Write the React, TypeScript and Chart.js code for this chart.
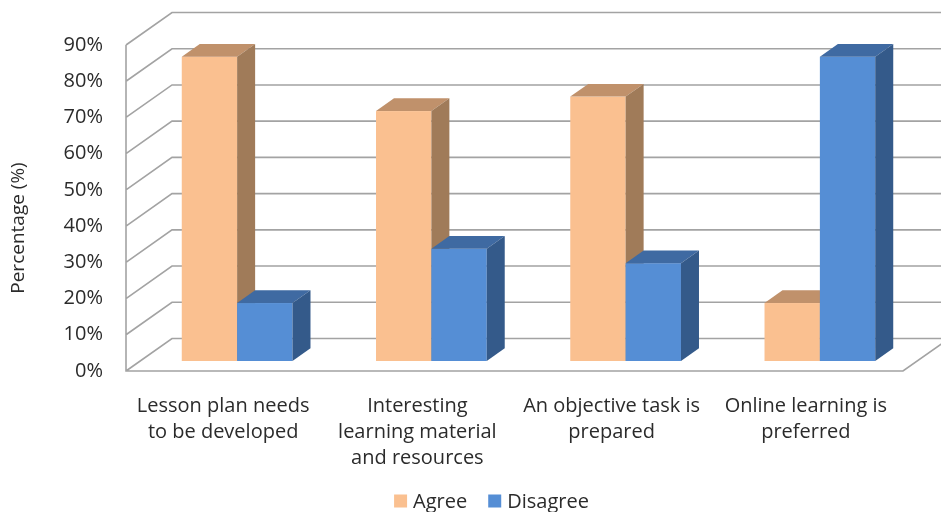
import React, { useEffect, useRef } from "react";
import { Chart, registerables } from "chart.js";

Chart.register(...registerables);

// ---- data ----
const categories: string[][] = [
  ["Lesson plan needs", "to be developed"],
  ["Interesting", "learning material", "and resources"],
  ["An objective task is", "prepared"],
  ["Online learning is", "preferred"],
];
const seriesNames = ["Agree", "Disagree"];
const agreeValues = [84, 69, 73, 16];
const disagreeValues = [16, 31, 27, 84];
const yTickValues = [0, 10, 20, 30, 40, 50, 60, 70, 80, 90];
const yAxisTitle = "Percentage (%)";

// ---- styling ----
const FONT = "'Open Sans', 'Noto Sans', sans-serif";
const FONT_SIZE = 20;
const TEXT_COLOR = "#2b2b2b";
const GRID_COLOR = "#a3a3a3";

// face colours per series: front, top, side
const faces = [
  { front: "#FAC090", top: "#C0916B", side: "#A07B59" },
  { front: "#558ED5", top: "#3F6AA2", side: "#345A8A" },
];

// perspective offsets (pixels)
const WALL_DX = 46;
const WALL_DY = -32.5;
const BAR_SHIFT_DX = 14;
const BAR_SHIFT_DY = -10;
const BAR_DEPTH_DX = 18;
const BAR_DEPTH_DY = -12.7;

const threeDPlugin = {
  id: "threeDBars",
  beforeDatasetsDraw(chart: any) {
    const { ctx, chartArea: a, scales } = chart;
    const y = scales.y;
    ctx.save();

    // side wall, back wall and floor lines
    ctx.strokeStyle = GRID_COLOR;
    ctx.lineWidth = 1.6;
    ctx.beginPath();
    for (const v of yTickValues) {
      const py = y.getPixelForValue(v);
      ctx.moveTo(a.left, py);
      ctx.lineTo(a.left + WALL_DX, py + WALL_DY);
      ctx.lineTo(a.right + WALL_DX, py + WALL_DY);
    }
    ctx.moveTo(a.left, y.getPixelForValue(yTickValues[yTickValues.length - 1]));
    ctx.lineTo(a.left, a.bottom);
    ctx.lineTo(a.right, a.bottom);
    ctx.lineTo(a.right + WALL_DX, a.bottom + WALL_DY);
    ctx.stroke();

    // 3D boxes, category by category so the right bar covers the left one's side
    const metas = chart.data.datasets.map((_: any, i: number) => chart.getDatasetMeta(i));
    const n = chart.data.labels.length;
    for (let c = 0; c < n; c++) {
      metas.forEach((meta: any, d: number) => {
        const el = meta.data[c];
        if (!el) return;
        const { x, y: top, base, width } = el.getProps(["x", "y", "base", "width"], true);
        const x0 = x - width / 2 + BAR_SHIFT_DX;
        const x1 = x + width / 2 + BAR_SHIFT_DX;
        const y0 = top + BAR_SHIFT_DY;
        const yb = base + BAR_SHIFT_DY;
        const f = faces[d];

        ctx.fillStyle = f.front;
        ctx.fillRect(x0, y0, x1 - x0, yb - y0);

        ctx.fillStyle = f.top;
        ctx.beginPath();
        ctx.moveTo(x0, y0);
        ctx.lineTo(x0 + BAR_DEPTH_DX, y0 + BAR_DEPTH_DY);
        ctx.lineTo(x1 + BAR_DEPTH_DX, y0 + BAR_DEPTH_DY);
        ctx.lineTo(x1, y0);
        ctx.closePath();
        ctx.fill();

        ctx.fillStyle = f.side;
        ctx.beginPath();
        ctx.moveTo(x1, y0);
        ctx.lineTo(x1 + BAR_DEPTH_DX, y0 + BAR_DEPTH_DY);
        ctx.lineTo(x1 + BAR_DEPTH_DX, yb + BAR_DEPTH_DY);
        ctx.lineTo(x1, yb);
        ctx.closePath();
        ctx.fill();
      });
    }
    ctx.restore();
    return false;
  },
  afterDraw(chart: any) {
    const { ctx } = chart;
    ctx.save();
    ctx.fillStyle = TEXT_COLOR;
    ctx.font = `19px ${FONT}`;

    // vertical axis title
    ctx.save();
    ctx.translate(19, 228);
    ctx.rotate(-Math.PI / 2);
    ctx.textAlign = "center";
    ctx.textBaseline = "middle";
    ctx.fillText(yAxisTitle, 0, 0);
    ctx.restore();

    // legend
    ctx.font = `${FONT_SIZE}px ${FONT}`;
    const box = 13;
    const gapText = 6;
    const gapItem = 21;
    const labels = chart.data.datasets.map((ds: any) => ds.label);
    const widths = labels.map((l: string) => ctx.measureText(l).width);
    const total =
      widths.reduce((s: number, w: number) => s + w + box + gapText, 0) + gapItem * (labels.length - 1);
    let lx = 491.5 - total / 2;
    const ly = 501;
    ctx.textAlign = "left";
    ctx.textBaseline = "middle";
    labels.forEach((l: string, i: number) => {
      ctx.fillStyle = faces[i].front;
      ctx.fillRect(lx, ly - box / 2, box, box);
      lx += box + gapText;
      ctx.fillStyle = TEXT_COLOR;
      ctx.fillText(l, lx, ly + 1);
      lx += widths[i] + gapItem;
    });
    ctx.restore();
  },
};

export default function App() {
  const canvasRef = useRef<HTMLCanvasElement | null>(null);

  useEffect(() => {
    document.body.style.margin = "0";
    const canvas = canvasRef.current;
    if (!canvas) return;
    const chart = new Chart(canvas, {
      type: "bar",
      data: {
        labels: categories,
        datasets: [
          { label: seriesNames[0], data: agreeValues, backgroundColor: faces[0].front },
          { label: seriesNames[1], data: disagreeValues, backgroundColor: faces[1].front },
        ],
      },
      options: {
        responsive: false,
        animation: false,
        devicePixelRatio: 1,
        layout: { padding: { left: 0, top: 45, right: 38, bottom: 41 } },
        datasets: { bar: { categoryPercentage: 0.57, barPercentage: 1 } },
        plugins: {
          legend: { display: false },
          tooltip: { enabled: false },
          title: { display: false },
        },
        scales: {
          x: {
            grid: { display: false },
            border: { display: false },
            ticks: {
              color: TEXT_COLOR,
              font: { family: FONT, size: FONT_SIZE, lineHeight: "26px" },
              padding: 14,
              maxRotation: 0,
              minRotation: 0,
              autoSkip: false,
            },
            afterFit: (scale: any) => {
              scale.height = 100;
            },
          },
          y: {
            min: 0,
            max: 90,
            grid: { display: false },
            border: { display: false },
            ticks: {
              stepSize: 10,
              color: TEXT_COLOR,
              font: { family: FONT, size: FONT_SIZE },
              padding: 15,
              callback: (v: any) => `${v}%`,
            },
            afterFit: (scale: any) => {
              scale.width = 126;
            },
          },
        },
      },
      plugins: [threeDPlugin],
    });
    return () => chart.destroy();
  }, []);

  return (
    <div style={{ width: 941, height: 512, position: "relative" }}>
      <canvas ref={canvasRef} width={941} height={512} />
    </div>
  );
}
